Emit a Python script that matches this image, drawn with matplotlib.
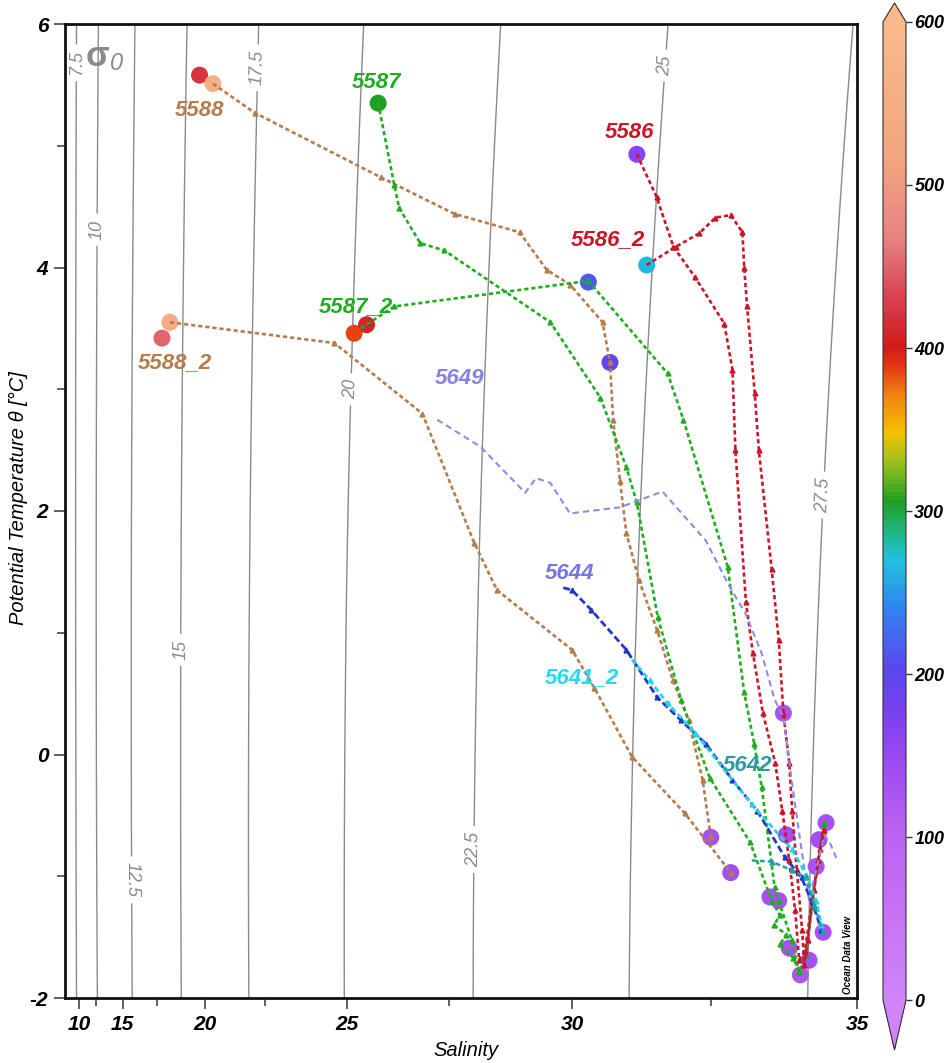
import numpy as np
import matplotlib
matplotlib.use("Agg")
import matplotlib.pyplot as plt
from matplotlib.colors import LinearSegmentedColormap

plt.rcParams['font.family'] = ['Liberation Sans', 'DejaVu Sans']
plt.rcParams['axes.unicode_minus'] = False

# ---------------- station profiles (salinity, potential temperature) ----------------
s_5588 = [20.36, 22.10, 25.86, 27.61, 28.98, 29.51, 29.96, 30.58, 30.72, 30.78, 30.91,
          31.03, 31.27, 31.58, 31.85, 32.12, 32.36, 32.50]
t_5588 = [5.51, 5.27, 4.74, 4.44, 4.29, 3.98, 3.86, 3.55, 3.22, 2.75, 2.25,
          1.82, 1.43, 1.02, 0.61, 0.28, -0.21, -0.68]

s_5588_2 = [18.18, 24.63, 26.86, 28.03, 28.52, 30.00, 30.42, 31.14, 32.05, 32.84]
t_5588_2 = [3.55, 3.38, 2.80, 1.74, 1.35, 0.86, 0.55, -0.02, -0.48, -0.97]

s_5587 = [25.79, 26.19, 26.31, 26.81, 27.38, 29.58, 30.54, 31.03, 31.23, 31.59, 31.99,
          32.48, 33.17, 33.54, 33.68, 33.58, 33.79, 33.68, 33.91, 34.01]
t_5587 = [5.35, 4.68, 4.49, 4.20, 4.14, 3.55, 2.93, 2.36, 2.07, 1.13, 0.45,
          -0.19, -0.72, -1.20, -1.32, -1.40, -1.48, -1.56, -1.67, -1.79]

s_5587_2 = [25.36, 26.19, 30.31, 31.76, 32.03, 32.79, 33.07, 33.24, 33.37, 33.59, 33.66,
            33.88, 34.01, 34.13, 34.24, 34.34, 34.44]
t_5587_2 = [3.50, 3.68, 3.89, 3.13, 2.75, 1.54, 0.51, 0.09, -0.27, -1.09, -1.20,
            -1.52, -1.79, -1.65, -1.20, -0.87, -0.56]

s_5586 = [31.23, 31.57, 31.86, 32.23, 32.73, 32.87, 32.92, 33.10, 33.22, 33.39, 33.60,
          33.72, 33.84, 33.94, 34.01, 34.11, 34.23, 34.34, 34.42]
t_5586 = [4.93, 4.58, 4.17, 3.92, 3.54, 3.16, 2.50, 1.25, 0.83, 0.34, -0.07,
          -0.46, -0.87, -1.28, -1.69, -1.61, -1.20, -0.87, -0.64]

s_5586_2 = [31.40, 31.90, 32.30, 32.58, 32.84, 33.04, 33.07, 33.12, 33.25, 33.32, 33.54,
            33.66, 33.74, 33.84, 33.89, 33.97, 34.06, 34.10, 34.16, 34.26, 34.36, 34.44]
t_5586_2 = [4.02, 4.17, 4.28, 4.41, 4.43, 4.29, 4.00, 3.68, 2.97, 2.50, 1.52,
            0.94, 0.34, -0.07, -0.46, -0.95, -1.44, -1.73, -1.52, -1.11, -0.78, -0.62]

s_5649 = [27.21, 28.16, 29.09, 29.30, 29.58, 29.96, 30.91, 31.67, 32.41, 32.82, 33.09,
          33.37, 33.59, 33.74, 33.88, 34.05, 34.18, 34.30, 34.44, 34.55, 34.67]
t_5649 = [2.75, 2.53, 2.15, 2.27, 2.23, 1.98, 2.03, 2.16, 1.76, 1.38, 1.16,
          0.83, 0.45, 0.31, -0.21, -0.78, -1.20, -0.95, -0.66, -0.74, -0.88]

s_5644 = [29.83, 30.00, 30.36, 31.03, 31.58, 31.99, 32.41, 32.87, 33.29, 33.76, 34.05,
          34.25, 34.39]
t_5644 = [1.37, 1.35, 1.19, 0.86, 0.47, 0.28, 0.09, -0.21, -0.46, -0.84, -1.01,
          -1.24, -1.44]

s_5641_2 = [31.14, 31.45, 31.76, 32.23, 33.20, 33.89, 34.13, 34.30, 34.39]
t_5641_2 = [0.78, 0.61, 0.42, 0.18, -0.41, -0.78, -0.99, -1.20, -1.40]

s_5642 = [33.20, 33.54, 33.88, 34.13, 34.27, 34.42]
t_5642 = [-0.87, -0.88, -0.95, -1.01, -1.24, -1.46]

# highlighted samples, coloured by the colour-bar variable
dot_s = [19.74, 20.36, 18.18, 17.76, 25.79, 25.19, 25.50, 30.31, 30.72, 31.23, 31.40,
         33.74, 32.50, 32.84, 33.51, 33.66, 33.79, 33.84, 34.03, 34.18, 34.42, 34.47,
         34.35, 34.30]
dot_t = [5.58, 5.51, 3.55, 3.42, 5.35, 3.46, 3.53, 3.88, 3.22, 4.93, 4.02,
         0.34, -0.68, -0.97, -1.17, -1.20, -0.66, -1.59, -1.81, -1.69, -1.46, -0.56,
         -0.70, -0.92]
dot_v = [420, 560, 545, 450, 305, 385, 410, 215, 195, 165, 265,
         130, 135, 140, 135, 130, 140, 130, 125, 135, 130, 135,
         140, 130]

cbar_ticks = [0, 100, 200, 300, 400, 500, 600]
sigma_levels = [7.5, 10, 12.5, 15, 17.5, 20, 22.5, 25, 27.5]

# ---------------- non-linear salinity axis (piecewise calibrated) ----------------
SAL_KNOTS = [7.5, 10, 12.5, 15, 17.5, 20, 21.25, 22.5, 23.75, 25, 26.25, 27.5,
             28.75, 30, 31.25, 32.5, 33.75, 35]
SAL_POS = [0, 14, 31, 57.5, 92, 139.5, 168.8, 199.8, 240.6, 281.5, 331.6, 384.4,
           442.7, 507, 572.9, 645.8, 719, 792]


def sal_fwd(s):
    return np.interp(np.asarray(s, dtype=float), SAL_KNOTS, SAL_POS)


def sal_inv(p):
    return np.interp(np.asarray(p, dtype=float), SAL_POS, SAL_KNOTS)


def sigma0(S, T):
    """UNESCO 1980 density at surface pressure, minus 1000."""
    rw = (999.842594 + 6.793952e-2 * T - 9.095290e-3 * T**2 + 1.001685e-4 * T**3
          - 1.120083e-6 * T**4 + 6.536332e-9 * T**5)
    A = 8.24493e-1 - 4.0899e-3 * T + 7.6438e-5 * T**2 - 8.2467e-7 * T**3 + 5.3875e-9 * T**4
    B = -5.72466e-3 + 1.0227e-4 * T - 1.6546e-6 * T**2
    C = 4.8314e-4
    return rw + A * S + B * S**1.5 + C * S**2 - 1000.0


cmap = LinearSegmentedColormap.from_list("odv", [
    (0.00, "#d184f7"), (0.17, "#bb62f2"), (0.25, "#9a48f0"), (0.30, "#7440ef"),
    (0.34, "#5a48ef"), (0.40, "#3184ef"), (0.45, "#20c2de"), (0.49, "#22b060"),
    (0.51, "#1f9e23"), (0.55, "#9cc21e"), (0.58, "#f2c300"), (0.62, "#f28010"),
    (0.65, "#e23414"), (0.67, "#d21a1c"), (0.72, "#d84252"), (0.78, "#e68282"),
    (0.86, "#f3a57f"), (1.00, "#f8ba8a")])
cmap.set_over("#f8ba8a")
cmap.set_under("#d184f7")

W, H = 949, 1063
fig = plt.figure(figsize=(W / 100, H / 100), dpi=100)
ax = fig.add_axes([65 / W, 1 - 998 / H, 792 / W, 974 / H])
ax.set_xscale('function', functions=(sal_fwd, sal_inv))
ax.set_xlim(7.5, 35)
ax.set_ylim(-2, 6)

# isopycnals
SS, TT = np.meshgrid(np.linspace(7.5, 35, 500), np.linspace(-2, 6, 120))
cs = ax.contour(SS, TT, sigma0(SS, TT), levels=sigma_levels, colors="#8a8a8a",
                linewidths=1.0, zorder=1)
label_spots = [(9.54, 5.68), (12.5, 4.31), (15.49, -1.03), (18.59, 0.86), (22.14, 5.64),
               (25.0, 3.0), (27.95, -0.78), (31.63, 5.66), (34.44, 2.13)]
cl = ax.clabel(cs, manual=label_spots, inline=True, fontsize=13, fmt=lambda v: f"{v:g}",
               inline_spacing=6)
for t in cl:
    t.set_color("#8a8a8a")
    t.set_fontstyle("italic")

ax.text(0.041, 0.967, "σ", transform=ax.transAxes, fontsize=25, color="#8a8a8a",
        fontweight="bold", ha="center", va="center")
ax.text(0.065, 0.959, "0", transform=ax.transAxes, fontsize=17, color="#8a8a8a",
        fontstyle="italic", ha="center", va="center")

# highlighted samples
sc = ax.scatter(dot_s, dot_t, c=dot_v, cmap=cmap, vmin=0, vmax=600, s=150,
                edgecolors="none", zorder=2)


def station(s, t, color, ls=(0, (1.6, 1.1)), lw=1.9, marker="^", ms=3.5):
    ax.plot(s, t, color=color, lw=lw, ls=ls, zorder=3, solid_capstyle="butt")
    if marker:
        ax.plot(s[1:], t[1:], ls="none", marker=marker, ms=ms, color=color, zorder=3)


station(s_5588, t_5588, "#b57d4c")
station(s_5588_2, t_5588_2, "#b57d4c")
station(s_5587, t_5587, "#1fae1f")
station(s_5587_2, t_5587_2, "#1fae1f")
station(s_5586, t_5586, "#cc1526")
station(s_5586_2, t_5586_2, "#cc1526")
station(s_5649, t_5649, "#8c8ce6", ls=(0, (3, 2)), lw=1.5, marker=None)
station(s_5644, t_5644, "#2536c8", ls=(0, (2.5, 1.2)), lw=2.0)
station(s_5641_2, t_5641_2, "#22d6ea", ls=(0, (2, 1.2)), lw=2.0)
station(s_5642, t_5642, "#22a0a6", ls=(0, (2, 1.2)), lw=1.8)

lab_kw = dict(fontsize=16, fontweight="bold", fontstyle="italic", ha="center",
              va="center", zorder=5)
ax.text(19.74, 5.29, "5588", color="#b57d4c", **lab_kw)
ax.text(18.44, 3.22, "5588_2", color="#b57d4c", **lab_kw)
ax.text(25.74, 5.52, "5587", color="#1fae1f", **lab_kw)
ax.text(25.24, 3.68, "5587_2", color="#1fae1f", **lab_kw)
ax.text(31.09, 5.11, "5586", color="#cc1526", **lab_kw)
ax.text(30.69, 4.23, "5586_2", color="#cc1526", **lab_kw)
ax.text(27.71, 3.09, "5649", color="#8383e6", **lab_kw)
ax.text(29.96, 1.49, "5644", color="#7676e0", **lab_kw)
ax.text(30.18, 0.63, "5641_2", color="#22dcf0", **lab_kw)
ax.text(33.12, -0.09, "5642", color="#2a9ca2", **lab_kw)

# axes styling
ax.set_xticks([10, 15, 20, 25, 30, 35])
ax.set_xticks([12.5, 17.5, 22.5, 27.5, 32.5], minor=True)
ax.set_yticks([-2, 0, 2, 4, 6])
ax.set_yticks([-1, 1, 3, 5], minor=True)
ax.tick_params(which="both", direction="out", width=1.2, color="#444444")
ax.tick_params(which="major", length=8, labelsize=15, pad=4)
ax.tick_params(which="minor", length=6)
for lbl in ax.get_xticklabels() + ax.get_yticklabels():
    lbl.set_fontweight("bold")
    lbl.set_fontstyle("italic")
for sp in ax.spines.values():
    sp.set_linewidth(2.0)
    sp.set_color("#111111")

fig.text(466 / W, 1 - 1050 / H, "Salinity", fontsize=14.5, fontstyle="italic",
         ha="center", va="center")
fig.text(18 / W, 1 - 498 / H, "Potential Temperature θ [°C]", fontsize=14.5,
         fontstyle="italic", rotation=90, ha="center", va="center")
fig.text(848 / W, 1 - 955 / H, "Ocean Data View", fontsize=7, fontweight="bold",
         fontstyle="italic", rotation=90, ha="center", va="center")

# colour bar: body spans 0..600 next to the plot, with end arrows
cax = fig.add_axes([883 / W, 1 - 1050 / H, 23 / W, 1047 / H])
cb = fig.colorbar(sc, cax=cax, extend="both", ticks=cbar_ticks,
                  extendfrac=[0.051, 0.0194])
cb.outline.set_linewidth(0.8)
cb.outline.set_edgecolor("#333333")
cax.tick_params(length=4, width=1, labelsize=13, pad=2, color="#333333")
for lbl in cax.get_yticklabels():
    lbl.set_fontweight("bold")
    lbl.set_fontstyle("italic")

fig.savefig("out.png", dpi=100)
